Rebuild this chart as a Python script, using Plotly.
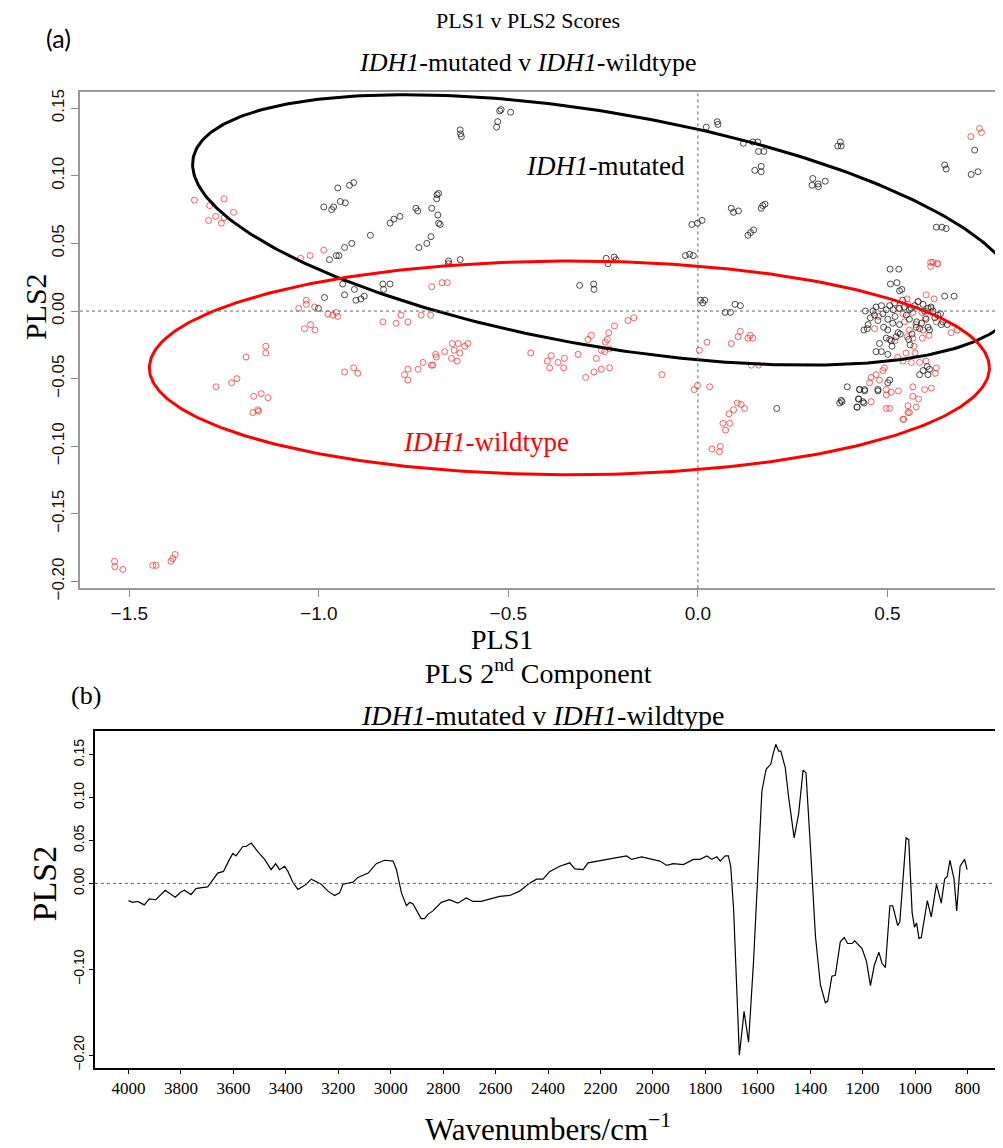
import numpy as np
import plotly.graph_objects as go

# ---------------- Data: PLS scores (panel a) ----------------
mut_pls1 = [-0.987, -0.966, -0.961, -0.950, -0.943, -0.930, -0.919, -0.908, -0.972, -0.954, -0.947, -0.932,
            -0.913, -0.864, -0.812, -0.802, -0.786, -0.744, -0.739, -0.702, -0.688, -0.684, -0.689, -0.686,
            -0.684, -0.680, -0.736, -0.715, -0.704, -0.658, -0.627, -0.658, -0.627, -0.626, -0.624, -0.531,
            -0.528, -0.523, -0.519, -0.494, -0.937, -0.906, -0.932, -0.902, -0.889, -0.880, -0.985, -1.001,
            -0.831, -0.812, -0.829,
            0.022, 0.051, 0.053, 0.120, 0.145, 0.158, 0.160, 0.174, 0.150, 0.167, 0.167, 0.376, 0.378, 0.369,
            0.303, 0.301, 0.317, 0.318, 0.336, 0.088, 0.107, 0.094, 0.167, 0.171, 0.177, 0.132, 0.139, 0.147,
            -0.016, -0.001, 0.011, -0.033, -0.022, -0.012, 0.651, 0.655, 0.730, 0.721, 0.739, 0.629, 0.644,
            0.655, -0.242, -0.221, -0.237, -0.216, -0.312, -0.275, -0.274, 0.007, 0.018, 0.013, 0.072, 0.086,
            0.098, 0.112, 0.208, 0.374, 0.380, 0.394, 0.420, 0.424, 0.438, 0.426, 0.440, 0.475,
            0.507, 0.530, 0.508, 0.525, 0.532, 0.538, 0.651, 0.676, 0.442, 0.462, 0.484, 0.497, 0.506, 0.519,
            0.532, 0.545, 0.558, 0.572, 0.581, 0.594, 0.607, 0.620, 0.633, 0.646, 0.658, 0.642, 0.466, 0.475,
            0.449, 0.438, 0.447, 0.488, 0.501, 0.514, 0.532, 0.558, 0.576, 0.585, 0.602, 0.607, 0.611, 0.501,
            0.497, 0.506, 0.523, 0.479, 0.470, 0.484, 0.501, 0.510, 0.585, 0.594, 0.605, 0.611, 0.607, 0.506,
            0.501, 0.427, 0.440, 0.475, 0.378, 0.424, 0.435, 0.420, 0.520, 0.540, 0.565, 0.590, 0.615, 0.560,
            0.455, 0.470, 0.490, 0.515, 0.528, 0.550, 0.563, 0.577, 0.598, 0.625, 0.640, 0.512, 0.534, 0.556]
mut_pls2 = [0.077, 0.075, 0.077, 0.091, 0.081, 0.080, 0.093, 0.095, 0.038, 0.041, 0.041, 0.047,
            0.050, 0.056, 0.065, 0.068, 0.070, 0.076, 0.074, 0.076, 0.086, 0.087, 0.083, 0.071,
            0.065, 0.064, 0.047, 0.050, 0.055, 0.037, 0.038, 0.035, 0.134, 0.131, 0.129, 0.136,
            0.140, 0.148, 0.149, 0.147, 0.020, 0.016, 0.012, 0.008, 0.009, 0.011, 0.010, 0.002,
            0.020, 0.020, 0.016,
            0.136, 0.140, 0.138, 0.124, 0.125, 0.125, 0.118, 0.118, 0.104, 0.107, 0.103, 0.125, 0.122, 0.122,
            0.098, 0.093, 0.094, 0.092, 0.096, 0.076, 0.074, 0.073, 0.076, 0.078, 0.079, 0.056, 0.058, 0.060,
            0.064, 0.065, 0.067, 0.041, 0.042, 0.041, 0.108, 0.105, 0.119, 0.101, 0.103, 0.062, 0.062,
            0.061, 0.039, 0.040, 0.035, 0.038, 0.019, 0.020, 0.016, 0.008, 0.008, 0.006, -0.001, -0.001,
            0.005, 0.004, -0.072, -0.068, -0.067, -0.056, -0.071, -0.065, -0.068, -0.058, -0.059, -0.059,
            0.031, 0.031, 0.020, 0.021, 0.015, 0.016, 0.011, 0.011, 0.000, 0.000, 0.004, 0.001, 0.004, 0.006,
            0.002, 0.003, 0.001, 0.004, 0.007, 0.005, 0.002, 0.000, -0.003, -0.008, -0.010, -0.010, -0.003, -0.007,
            -0.010, -0.014, -0.013, -0.002, -0.006, -0.009, -0.010, -0.006, -0.012, -0.013, -0.006, -0.012, -0.014, -0.014,
            -0.020, -0.021, -0.019, -0.024, -0.030, -0.030, -0.032, -0.022, -0.047, -0.044, -0.041, -0.043, -0.047, -0.051,
            -0.053, -0.058, -0.058, -0.058, -0.066, -0.065, -0.067, -0.071, -0.004, 0.008, -0.017, -0.009, 0.003, -0.025,
            -0.005, 0.003, -0.012, 0.001, -0.016, -0.003, 0.002, -0.008, 0.0, -0.005, -0.002, -0.026, -0.017, -0.021]

wt_pls1 = [-1.328, -1.288, -1.291, -1.272, -1.250, -1.225, -1.257, -1.250, -1.048, -1.023, -0.987, -1.053,
           -1.033, -1.033, -1.011, -1.038, -1.022, -1.010, -0.976, -0.963, -0.954, -0.950, -0.831, -0.796,
           -0.783, -0.765, -0.730, -0.705, -0.702, -0.675, -0.661, -1.192, -1.140, -1.140, -0.932, -0.908,
           -0.897, -0.774, -0.765, -0.765, -0.738, -0.725, -0.703, -0.699, -0.690, -0.668, -0.648, -0.632,
           -0.643, -0.628, -0.650, -0.635, -0.615, -0.607, -0.692,
           -1.271, -1.230, -1.216, -1.172, -1.152, -1.134, -1.174, -1.161, -1.159, -1.539, -1.538, -1.517,
           -1.438, -1.429, -1.390, -1.385, -1.379,
           0.720, 0.743, 0.748, 0.614, 0.632, 0.620, -0.184, -0.169, -0.220, -0.235, -0.281, -0.290, -0.239,
           -0.244, -0.441, -0.387, -0.397, -0.369, -0.352, -0.391, -0.354, -0.316, -0.268, -0.255, -0.246,
           -0.233, -0.255, -0.233, -0.274, -0.296, -0.095, 0.004, 0.024, 0.088, 0.106, 0.112, 0.132, 0.138,
           0.145, 0.141, 0.160,
           -0.010, -0.001, 0.031, 0.037, 0.057, 0.059, 0.066, 0.084, 0.073, 0.082, 0.094, 0.104, 0.114, 0.123,
           0.614, 0.632, 0.552, 0.581, 0.602, 0.623, 0.530, 0.541, 0.554, 0.567, 0.591, 0.615, 0.629, 0.477,
           0.466, 0.545, 0.558, 0.552, 0.567, 0.594, 0.592, 0.668, 0.684, 0.570, 0.549, 0.527, 0.541, 0.573,
           0.563, 0.585, 0.602, 0.488, 0.492, 0.457, 0.453, 0.470, 0.479, 0.497, 0.510, 0.529, 0.497, 0.567,
           0.598, 0.616, 0.626, 0.629, 0.457, 0.497, 0.506, 0.554, 0.576, 0.558, 0.543, 0.582, 0.541, 0.554,
           0.567, 0.575, 0.600, 0.520, 0.610]
wt_pls2 = [0.082, 0.078, 0.067, 0.070, 0.083, 0.073, 0.065, 0.069, 0.039, 0.041, 0.045, 0.002,
           0.008, 0.005, 0.003, -0.013, -0.010, -0.014, -0.002, -0.003, -0.001, -0.004, -0.008, -0.009,
           -0.003, -0.008, -0.003, -0.003, 0.018, 0.021, 0.021, -0.034, -0.026, -0.031, -0.045, -0.042,
           -0.046, -0.047, -0.043, -0.051, -0.043, -0.038, -0.040, -0.040, -0.034, -0.030, -0.024, -0.024,
           -0.029, -0.031, -0.035, -0.037, -0.026, -0.024, -0.032,
           -0.056, -0.053, -0.050, -0.063, -0.061, -0.064, -0.075, -0.073, -0.074, -0.185, -0.189, -0.191,
           -0.188, -0.188, -0.185, -0.183, -0.180,
           0.129, 0.135, 0.132, 0.033, 0.035, 0.036, -0.007, -0.005, -0.011, -0.016, -0.018, -0.021, -0.021,
           -0.023, -0.031, -0.033, -0.037, -0.038, -0.035, -0.042, -0.042, -0.032, -0.035, -0.029, -0.030,
           -0.028, -0.043, -0.042, -0.045, -0.049, -0.047, -0.029, -0.023, -0.024, -0.019, -0.015, -0.020, -0.018,
           -0.020, -0.040, -0.040,
           -0.058, -0.055, -0.056, -0.102, -0.104, -0.100, -0.083, -0.083, -0.088, -0.076, -0.073, -0.068, -0.069, -0.072,
           0.036, 0.035, 0.009, 0.007, 0.012, 0.009, 0.002, -0.002, 0.005, -0.001, -0.001, 0.002, -0.008, -0.004,
           -0.013, -0.008, -0.014, -0.019, -0.020, -0.014, -0.020, -0.016, -0.014, -0.026, -0.031, -0.034, -0.037, -0.031,
           -0.038, -0.038, -0.037, -0.044, -0.042, -0.049, -0.053, -0.047, -0.051, -0.058, -0.060, -0.059, -0.062, -0.056,
           -0.058, -0.057, -0.046, -0.042, -0.067, -0.072, -0.072, -0.070, -0.071, -0.075, -0.080, -0.065, -0.080, -0.075,
           -0.063, -0.010, -0.005, -0.022, -0.018]

# Ellipse parameters [centre x, centre y, radius x, radius y, phase(deg)]
mut_ellipse = [-0.244, 0.060, 1.089, 0.100, 119.0]
wt_ellipse = [-0.339, -0.042, 1.108, 0.079, 90.0]

# ---------------- Data: PLS 2nd component loading (panel b) ----------------
wavenumber = [4000, 3985, 3965, 3940, 3921, 3896, 3860, 3840, 3822, 3800, 3787, 3762, 3743, 3720, 3698,
              3660, 3638, 3615, 3602, 3590, 3564, 3552, 3532, 3507, 3481, 3456, 3439, 3424, 3405, 3392,
              3373, 3354, 3322, 3303, 3290, 3265, 3239, 3214, 3195, 3182, 3144, 3125, 3086, 3055, 3023,
              2991, 2978, 2959, 2940, 2927, 2915, 2884, 2871, 2858, 2839, 2807, 2776, 2744, 2712, 2686,
              2655, 2623, 2584, 2546, 2508, 2476, 2444, 2419, 2393, 2355, 2317, 2298, 2266, 2247, 2215,
              2177, 2138, 2100, 2081, 2043, 1998, 1973, 1947, 1922, 1884, 1845, 1820, 1794, 1775, 1756,
              1743, 1724, 1712, 1703, 1692, 1680, 1670, 1652, 1635, 1616, 1597, 1584, 1568, 1550, 1542,
              1531, 1520, 1512, 1495, 1482, 1461, 1444, 1427, 1416, 1399, 1380, 1361, 1342, 1333, 1317,
              1304, 1285, 1270, 1257, 1240, 1230, 1202, 1185, 1170, 1155, 1138, 1126, 1113, 1096, 1085,
              1066, 1058, 1034, 1024, 1011, 1002, 994, 985, 976, 953, 938, 918, 900, 887, 877, 867, 851,
              841, 828, 811, 801]
pls2_loading = [-0.020, -0.022, -0.021, -0.025, -0.018, -0.019, -0.008, -0.012, -0.016, -0.010, -0.008,
                -0.013, -0.006, -0.005, -0.004, 0.012, 0.014, 0.028, 0.035, 0.032, 0.043, 0.043, 0.047,
                0.037, 0.028, 0.016, 0.023, 0.016, 0.020, 0.014, 0.001, -0.007, -0.001, 0.005, 0.003,
                -0.001, -0.009, -0.014, -0.011, -0.001, 0.0015, 0.007, 0.012, 0.023, 0.027, 0.026, 0.016,
                -0.011, -0.026, -0.022, -0.024, -0.041, -0.041, -0.036, -0.032, -0.022, -0.019, -0.023,
                -0.017, -0.021, -0.021, -0.018, -0.015, -0.014, -0.009, -0.001, 0.005, 0.005, 0.014,
                0.020, 0.024, 0.017, 0.016, 0.024, 0.026, 0.028, 0.030, 0.032, 0.028, 0.031, 0.028,
                0.026, 0.021, 0.023, 0.022, 0.028, 0.028, 0.032, 0.028, 0.031, 0.026, 0.032, 0.032,
                0.020, -0.030, -0.130, -0.200, -0.149, -0.185, -0.091, 0.031, 0.108, 0.133, 0.139,
                0.150, 0.162, 0.154, 0.154, 0.135, 0.100, 0.053, 0.081, 0.132, 0.129, 0.043, -0.061,
                -0.118, -0.139, -0.137, -0.108, -0.107, -0.068, -0.063, -0.070, -0.070, -0.067, -0.076,
                -0.091, -0.119, -0.095, -0.080, -0.093, -0.098, -0.026, -0.026, -0.049, -0.045, 0.053,
                0.051, -0.034, -0.051, -0.046, -0.064, -0.063, -0.020, -0.039, -0.001, -0.023, 0.005,
                0.008, 0.027, 0.005, -0.032, 0.020, 0.028, 0.016]

x_ticks_a = [-1.5, -1.0, -0.5, 0.0, 0.5]
y_ticks_a = [-0.20, -0.15, -0.10, -0.05, 0.00, 0.05, 0.10, 0.15]
x_ticks_b = [4000, 3800, 3600, 3400, 3200, 3000, 2800, 2600, 2400, 2200, 2000, 1800, 1600, 1400, 1200, 1000, 800]
y_ticks_b = [-0.20, -0.10, 0.00, 0.05, 0.10, 0.15]

SERIF = "Liberation Serif, Times New Roman, serif"
SANS = "Liberation Sans, Arial, sans-serif"
W, H = 1003, 1148


def ellipse_pts(p):
    t = np.linspace(0, 2 * np.pi, 400)
    cx, cy, rx, ry, ph = p
    return cx + rx * np.cos(t), cy + ry * np.cos(t - np.deg2rad(ph))


fig = go.Figure()

fig.add_trace(go.Scatter(x=wt_pls1, y=wt_pls2, mode="markers", xaxis="x", yaxis="y",
                         marker=dict(symbol="circle-open", size=6, color="rgba(255,40,40,0.75)",
                                     line=dict(width=1)), showlegend=False))
fig.add_trace(go.Scatter(x=mut_pls1, y=mut_pls2, mode="markers", xaxis="x", yaxis="y",
                         marker=dict(symbol="circle-open", size=6, color="rgba(30,30,30,0.8)",
                                     line=dict(width=1)), showlegend=False))
ex, ey = ellipse_pts(mut_ellipse)
fig.add_trace(go.Scatter(x=ex, y=ey, mode="lines", line=dict(color="black", width=3),
                         xaxis="x", yaxis="y", showlegend=False, hoverinfo="skip"))
ex, ey = ellipse_pts(wt_ellipse)
fig.add_trace(go.Scatter(x=ex, y=ey, mode="lines", line=dict(color="#ff0000", width=3),
                         xaxis="x", yaxis="y", showlegend=False, hoverinfo="skip"))

fig.add_trace(go.Scatter(x=wavenumber, y=pls2_loading, mode="lines", xaxis="x2", yaxis="y2",
                         line=dict(color="black", width=1.2), showlegend=False))

fig.update_layout(
    width=W, height=H, margin=dict(l=0, r=0, t=0, b=0),
    paper_bgcolor="white", plot_bgcolor="white",
    xaxis=dict(domain=[72 / W, 1.0], anchor="y", range=[-1.63, 0.826],
               tickvals=x_ticks_a, tickformat=".1f", ticks="outside", ticklen=7, tickcolor="#888",
               showline=True, linecolor="#999", linewidth=1.5, mirror=True, showgrid=False, zeroline=False,
               tickfont=dict(family=SANS, size=19, color="#111")),
    yaxis=dict(domain=[1 - 585 / H, 1 - 82 / H], anchor="x", range=[-0.205, 0.162],
               tickvals=y_ticks_a, tickformat=".2f", ticks="outside", ticklen=7, tickcolor="#888",
               tickangle=-90, showline=True, linecolor="#999", linewidth=1.5, showgrid=False, zeroline=False,
               tickfont=dict(family=SANS, size=17, color="#111")),
    xaxis2=dict(domain=[87 / W, 993 / W], anchor="y2", range=[4128, 672],
                tickvals=x_ticks_b, ticks="outside", ticklen=4, tickcolor="black",
                showline=True, linecolor="black", linewidth=1.5, mirror=True, showgrid=False, zeroline=False,
                tickfont=dict(family=SERIF, size=17, color="black")),
    yaxis2=dict(domain=[1 - 1071 / H, 1 - 730 / H], anchor="x2", range=[-0.215, 0.177],
                tickvals=y_ticks_b, tickformat=".2f", ticks="outside", ticklen=4, tickcolor="black",
                tickangle=-90, showline=True, linecolor="black", linewidth=1.5, mirror=True,
                showgrid=False, zeroline=False,
                tickfont=dict(family=SANS, size=14, color="black")),
)

# dotted reference lines
dot = dict(color="#666", width=1, dash="dot")
fig.add_shape(type="line", xref="x domain", yref="y", x0=0, x1=1, y0=0, y1=0, line=dot)
fig.add_shape(type="line", xref="x", yref="y domain", x0=0, x1=0, y0=0, y1=1, line=dot)
fig.add_shape(type="line", xref="x2 domain", yref="y2", x0=0, x1=1, y0=0, y1=0, line=dot)


def ann(text, x, y, size, family=SERIF, color="black", angle=0, xref="paper", yref="paper", xanchor="center"):
    fig.add_annotation(text=text, x=x, y=y, xref=xref, yref=yref, showarrow=False,
                       font=dict(family=family, size=size, color=color), textangle=angle,
                       xanchor=xanchor, yanchor="middle")


def px(xp, yp):
    return xp / W, 1 - yp / H


# panel (a) texts
ann("(a)", *px(50, 27), 25, family="Lato, Open Sans, sans-serif")
ann("PLS1 v PLS2 Scores", *px(520, 10), 22)
ann("<i>IDH1</i>-mutated v <i>IDH1</i>-wildtype", *px(520, 52), 26)
ann("PLS1", *px(494, 637), 28)
ann("PLS2", *px(27, 300), 30, angle=-90)
ann("<i>IDH1</i>-mutated", -0.243, 0.107, 27, xref="x", yref="y")
ann("<i>IDH1</i>-wildtype", -0.56, -0.097, 27, color="#ff0000", xref="x", yref="y")

# panel (b) texts
ann("(b)", *px(78, 694), 26)
ann("PLS 2<sup>nd</sup> Component", *px(530, 669), 28)
ann("<i>IDH1</i>-mutated v <i>IDH1</i>-wildtype", *px(534, 714), 28)
ann("PLS2", *px(36, 884), 34, angle=-90)
ann("Wavenumbers/cm<sup>\u22121</sup>", *px(540, 1131), 31)

fig.write_html("out.html")
